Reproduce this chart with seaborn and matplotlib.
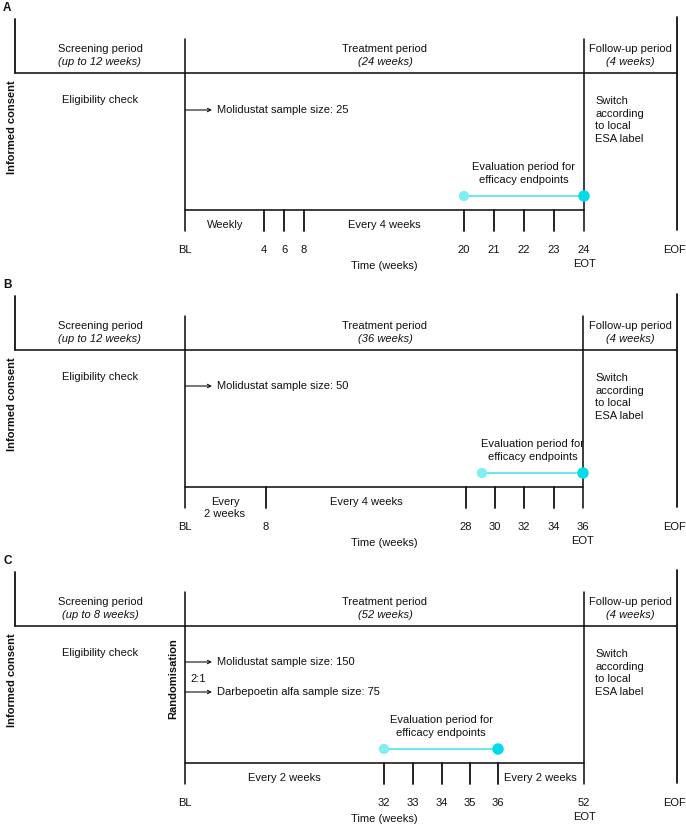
import matplotlib
matplotlib.use("Agg")
import matplotlib.pyplot as plt
import seaborn as sns
import pandas as pd

# ---------------- data ----------------
panel_letters = ["A", "B", "C"]
screening_durations = ["(up to 12 weeks)", "(up to 12 weeks)", "(up to 8 weeks)"]
treatment_durations = ["(24 weeks)", "(36 weeks)", "(52 weeks)"]
followup_duration = "(4 weeks)"

tick_labels_A = ["BL", "4", "6", "8", "20", "21", "22", "23", "24"]
tick_labels_B = ["BL", "8", "28", "30", "32", "34", "36"]
tick_labels_C = ["BL", "32", "33", "34", "35", "36", "52"]

arms_A = ["Molidustat"]
sizes_A = [25]
arms_B = ["Molidustat"]
sizes_B = [50]
arms_C = ["Molidustat", "Darbepoetin alfa"]
sizes_C = [150, 75]

eval_weeks_A = ["20", "24"]
eval_weeks_B = ["29", "36"]
eval_weeks_C = ["32", "36"]

intervals_A = ["Weekly", "Every 4 weeks"]
intervals_B = ["Every\n2 weeks", "Every 4 weeks"]
intervals_C = ["Every 2 weeks", "Every 2 weeks"]

# ---------------- layout (schematic pixel positions) ----------------
pos_A = {"BL": 185, "4": 264, "6": 284, "8": 304, "20": 464, "21": 494,
         "22": 524, "23": 554, "24": 584}
pos_B = {"BL": 185, "8": 266, "28": 466, "29": 482, "30": 495, "32": 524,
         "34": 554, "36": 583}
pos_C = {"BL": 185, "32": 384, "33": 413, "34": 442, "35": 470, "36": 498,
         "52": 584}
interval_x_A = [225, 384]
interval_x_B = [225, 366]
interval_x_C = [284, 540]
arrow_y_A = [110]
arrow_y_B = [109]
arrow_y_C = [109, 139]
offsets = [0, 277, 553]

panels = [
    dict(ticks=tick_labels_A, pos=pos_A, arms=arms_A, sizes=sizes_A,
         ev=eval_weeks_A, iv=intervals_A, ivx=interval_x_A, ay=arrow_y_A, rand=False),
    dict(ticks=tick_labels_B, pos=pos_B, arms=arms_B, sizes=sizes_B,
         ev=eval_weeks_B, iv=intervals_B, ivx=interval_x_B, ay=arrow_y_B, rand=False),
    dict(ticks=tick_labels_C, pos=pos_C, arms=arms_C, sizes=sizes_C,
         ev=eval_weeks_C, iv=intervals_C, ivx=interval_x_C, ay=arrow_y_C, rand=True),
]

sns.set_theme(style="white")
plt.rcParams["font.family"] = ["Liberation Sans", "DejaVu Sans"]
FS = 8
LW = 1.15
BLACK = "#111111"
CYAN_LINE = "#3fe3ec"
CYAN_START = "#80eef4"
CYAN_END = "#00dde8"

fig = plt.figure(figsize=(6.86, 8.24), dpi=100)
ax = fig.add_axes([0, 0, 1, 1])
ax.set_xlim(0, 686)
ax.set_ylim(824, 0)
ax.axis("off")

X_LEFT, X_BL, X_RIGHT = 15, 185, 677

for i, p in enumerate(panels):
    o = offsets[i]
    pos = p["pos"]
    x_eot = pos[p["ticks"][-1]]
    # panel letter
    ax.text(3, o + 8, panel_letters[i], fontsize=8.5, fontweight="bold",
            ha="left", va="center", color=BLACK)
    # frame lines
    ax.plot([X_LEFT, X_LEFT], [o + 19, o + 73], color=BLACK, lw=1.3)
    ax.plot([X_LEFT, X_RIGHT], [o + 73, o + 73], color=BLACK, lw=LW)
    ax.plot([X_BL, X_BL], [o + 39, o + 231], color=BLACK, lw=LW)
    ax.plot([x_eot, x_eot], [o + 39, o + 231], color=BLACK, lw=LW)
    ax.plot([X_RIGHT, X_RIGHT], [o + 17, o + 230], color=BLACK, lw=1.3)
    ax.plot([X_BL, x_eot], [o + 210, o + 210], color=BLACK, lw=LW)
    # ticks
    for t in p["ticks"][1:-1]:
        ax.plot([pos[t], pos[t]], [o + 210, o + 231], color=BLACK, lw=1.3)
    # tick labels
    for t in p["ticks"]:
        ax.text(pos[t], o + 250, t, fontsize=FS, ha="center", va="center", color=BLACK)
    ax.text(x_eot, o + 264, "EOT", fontsize=FS, ha="center", va="center", color=BLACK)
    ax.text(X_RIGHT - 2, o + 250, "EOF", fontsize=FS, ha="center", va="center", color=BLACK)
    ax.text(384, o + 266, "Time (weeks)", fontsize=FS, ha="center",
            va="center", color=BLACK)
    # headers
    ax.text(100, o + 49, "Screening period", fontsize=FS, ha="center", va="center", color=BLACK)
    ax.text(100, o + 62, screening_durations[i], fontsize=FS, style="italic",
            ha="center", va="center", color=BLACK)
    ax.text(385, o + 49, "Treatment period", fontsize=FS, ha="center", va="center", color=BLACK)
    ax.text(385, o + 62, treatment_durations[i], fontsize=FS, style="italic",
            ha="center", va="center", color=BLACK)
    ax.text(630, o + 49, "Follow-up period", fontsize=FS, ha="center", va="center", color=BLACK)
    ax.text(630, o + 62, followup_duration, fontsize=FS, style="italic",
            ha="center", va="center", color=BLACK)
    # body text
    ax.text(12, o + 127, "Informed consent", fontsize=FS, fontweight="bold",
            rotation=90, ha="center", va="center", color=BLACK)
    ax.text(100, o + 100, "Eligibility check", fontsize=FS, ha="center", va="center", color=BLACK)
    ax.text(595, o + 120, "Switch\naccording\nto local\nESA label", fontsize=FS,
            ha="left", va="center", linespacing=1.36, color=BLACK)
    if p["rand"]:
        ax.text(173, o + 126, "Randomisation", fontsize=FS, fontweight="bold",
                rotation=90, ha="center", va="center", color=BLACK)
        ax.text(190, o + 126, "2:1", fontsize=FS, ha="left", va="center", color=BLACK)
    # arms
    for arm, n, ay in zip(p["arms"], p["sizes"], p["ay"]):
        ax.annotate("", xy=(212, o + ay), xytext=(X_BL, o + ay),
                    arrowprops=dict(arrowstyle="->", lw=0.8, color=BLACK,
                                    mutation_scale=6, shrinkA=0, shrinkB=0))
        ax.text(217, o + ay, f"{arm} sample size: {n}", fontsize=FS,
                ha="left", va="center", color=BLACK)
    # intervals
    for lab, ix in zip(p["iv"], p["ivx"]):
        if "\n" in lab:
            ax.text(ix, o + 231, lab, fontsize=FS, ha="center", va="center",
                    linespacing=1.2, color=BLACK)
        else:
            ax.text(ix, o + 225, lab, fontsize=FS, ha="center", va="center", color=BLACK)
    # evaluation period
    ev_df = pd.DataFrame({
        "x": [pos[w] for w in p["ev"]],
        "y": [o + 196, o + 196],
        "kind": ["start", "end"],
    })
    sns.lineplot(data=ev_df, x="x", y="y", color=CYAN_LINE, lw=1.1, ax=ax,
                 sort=False, estimator=None, zorder=3)
    sns.scatterplot(data=ev_df, x="x", y="y", hue="kind",
                    palette={"start": CYAN_START, "end": CYAN_END},
                    size="kind", sizes={"start": 55, "end": 68},
                    edgecolor="none", legend=False, ax=ax, zorder=4)
    xc = sum(ev_df["x"]) / 2
    ax.text(xc, o + 167, "Evaluation period for", fontsize=FS, ha="center",
            va="center", color=BLACK)
    ax.text(xc, o + 180, "efficacy endpoints", fontsize=FS, ha="center",
            va="center", color=BLACK)

ax.set_xlim(0, 686)
ax.set_ylim(824, 0)
ax.set_xlabel("")
ax.set_ylabel("")
ax.axis("off")
fig.savefig("out.png", dpi=100, facecolor="white")
